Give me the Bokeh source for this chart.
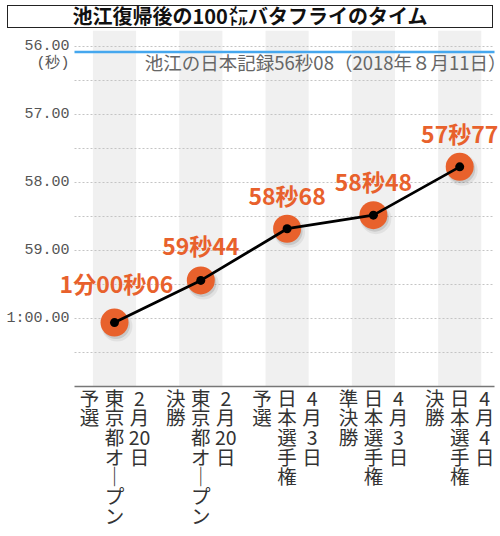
import re
from bokeh.plotting import figure
from bokeh.models import Range1d, FixedTicker, Label, Div, ColumnDataSource
from bokeh.layouts import column
from bokeh.transform import dodge
from bokeh.core.properties import value
from bokeh.embed import file_html
from bokeh.resources import INLINE

# ---------------- data ----------------
title_text = "池江復帰後の100㍍バタフライのタイム"
dates = ["2月20日", "2月20日", "4月3日", "4月3日", "4月4日"]
meets = ["東京都オープン", "東京都オープン", "日本選手権", "日本選手権", "日本選手権"]
rounds = ["予選", "決勝", "予選", "準決勝", "決勝"]
times = [60.06, 59.44, 58.68, 58.48, 57.77]
time_labels = ["1分00秒06", "59秒44", "58秒68", "58秒48", "57秒77"]
record_time = 56.08
record_label = "池江の日本記録56秒08（2018年８月11日）"
y_ticks = [56, 57, 58, 59, 60]
y_tick_labels = ["56.00", "57.00", "58.00", "59.00", "1:00.00"]
grid_ticks = [56, 56.5, 57, 57.5, 58, 58.5, 59, 59.5, 60, 60.5]
unit_label = "(秒)"
axis_bottom = 61.0

# ---------------- layout constants (page pixels) ----------------
CJK = "Noto Sans CJK JP"
ORANGE = "#e8612c"
PX_PER_S = 68.0
PX_PER_CAT = 86.3
TITLE_TOP, TITLE_H = 5, 23
FIG_TOP = TITLE_TOP + TITLE_H
FIG_W, FIG_H = 499, 500
FRAME_TOP = 30
FRAME_BOT = FIG_TOP + FIG_H
FRAME_L, FRAME_R = 58, 499
GRID_L, GRID_R = 74, 494
Y56_PX = 46
X0_PX = 114
label_dx = [2, 0, 0, 0, 0]          # pixel nudges of the value labels
label_dy = [-40, -35, -34, -34, -34]

y_top_val = 56 - (Y56_PX - FRAME_TOP) / PX_PER_S
y_bot_val = 56 + (FRAME_BOT - Y56_PX) / PX_PER_S
x_start = (FRAME_L - X0_PX) / PX_PER_CAT
x_end = (FRAME_R - X0_PX) / PX_PER_CAT
gx0 = (GRID_L - X0_PX) / PX_PER_CAT
gx1 = (GRID_R - X0_PX) / PX_PER_CAT


def vertical(s):
    parts = re.findall(r"[0-9]+|.", s)
    return "\n".join("｜" if c == "ー" else c for c in parts)


xs = list(range(len(times)))
src = ColumnDataSource(dict(
    x=xs, y=times, label=time_labels,
    ldx=label_dx, ldy=label_dy,
    base=[axis_bottom] * len(xs),
    date_v=[vertical(s) for s in dates],
    meet_v=[vertical(s) for s in meets],
    round_v=[vertical(s) for s in rounds],
))

p = figure(width=FIG_W, height=FIG_H, output_backend="svg", toolbar_location=None,
           x_range=Range1d(x_start, x_end), y_range=Range1d(y_bot_val, y_top_val),
           min_border_left=FRAME_L, min_border_right=FIG_W - FRAME_R,
           min_border_top=FRAME_TOP - FIG_TOP, min_border_bottom=0,
           x_axis_location=None, margin=(0, 0, 0, 0))
p.outline_line_color = None
p.background_fill_color = "white"
p.border_fill_color = "white"
p.xgrid.visible = False
p.ygrid.visible = False

# y axis (labels pushed right, into the frame's empty left strip)
tick_overrides = {t: l for t, l in zip(y_ticks, y_tick_labels)}
tick_overrides[56.25] = unit_label
p.yaxis.ticker = FixedTicker(ticks=y_ticks + [56.25])
p.yaxis.major_label_overrides = tick_overrides
p.yaxis.axis_line_color = None
p.yaxis.major_tick_line_color = None
p.yaxis.minor_tick_line_color = None
p.yaxis.major_tick_out = 0
p.yaxis.major_tick_in = 0
p.yaxis.major_label_standoff = -(GRID_L - 5 - FRAME_L)
p.yaxis.major_label_text_font = "Liberation Mono"
p.yaxis.major_label_text_font_size = "15px"
p.yaxis.major_label_text_color = "#555555"

# background bands
p.vbar(x="x", width=0.5, top=y_top_val - 0.5, bottom="base", source=src,
       fill_color="#f0f0f0", line_color=None)

# dotted grid lines (every half second)
p.segment(x0=[gx0] * len(grid_ticks), x1=[gx1] * len(grid_ticks),
          y0=grid_ticks, y1=grid_ticks,
          line_color="#c4c4c4", line_dash="2 2", line_width=1)

# bottom axis line and record line
p.segment(x0=[gx0], x1=[gx1], y0=[axis_bottom], y1=[axis_bottom],
          line_color="#777777", line_width=1.3)
p.segment(x0=[gx0], x1=[gx1], y0=[record_time], y1=[record_time],
          line_color="#45a7ee", line_width=2.5)
p.add_layout(Label(x=(506 - X0_PX) / PX_PER_CAT, y=record_time + 0.155, text=record_label,
                   text_align="right", text_baseline="middle",
                   text_font=CJK, text_font_size="18.5px", text_color="#666666"))

# shadows
p.scatter(x=dodge("x", 2.5 / PX_PER_CAT), y=dodge("y", 3.5 / PX_PER_S), source=src,
          size=31, fill_color="black", fill_alpha=0.06, line_color=None)
p.scatter(x=dodge("x", 1.5 / PX_PER_CAT), y=dodge("y", 2.5 / PX_PER_S), source=src,
          size=28, fill_color="black", fill_alpha=0.11, line_color=None)
# points
p.scatter("x", "y", source=src, size=28, fill_color=ORANGE, line_color=None)
p.line("x", "y", source=src, line_color="black", line_width=2.8)
p.scatter("x", "y", source=src, size=9, fill_color="black", line_color=None)

# value labels
p.text("x", "y", text="label", source=src, x_offset="ldx", y_offset="ldy",
       text_align="center", text_baseline="middle",
       text_font=value(CJK), text_font_style="bold", text_font_size="23px",
       text_color=ORANGE)

# vertical category labels (columns read right to left)
for field, dx in (("date_v", 25), ("meet_v", 0), ("round_v", -25)):
    p.text(x=dodge("x", dx / PX_PER_CAT), y="base", text=field, source=src,
           y_offset=-4, text_align="center", text_baseline="top",
           text_line_height=0.68,
           text_font=value(CJK), text_font_size="19.5px", text_color="#333333")

title_div = Div(
    text=(f'<div style="box-sizing:border-box;width:486px;height:{TITLE_H}px;'
          f'border:1.5px solid #222;text-align:center;font-family:\'{CJK}\';'
          f'font-weight:bold;font-size:20px;line-height:19px;color:#111;'
          f'white-space:nowrap;">{title_text}</div>'),
    width=486, height=TITLE_H, margin=(TITLE_TOP, 0, 0, 7))

layout = column(title_div, p, margin=(0, 0, 0, 0), spacing=0)

open("out.html", "w").write(file_html(layout, INLINE))
